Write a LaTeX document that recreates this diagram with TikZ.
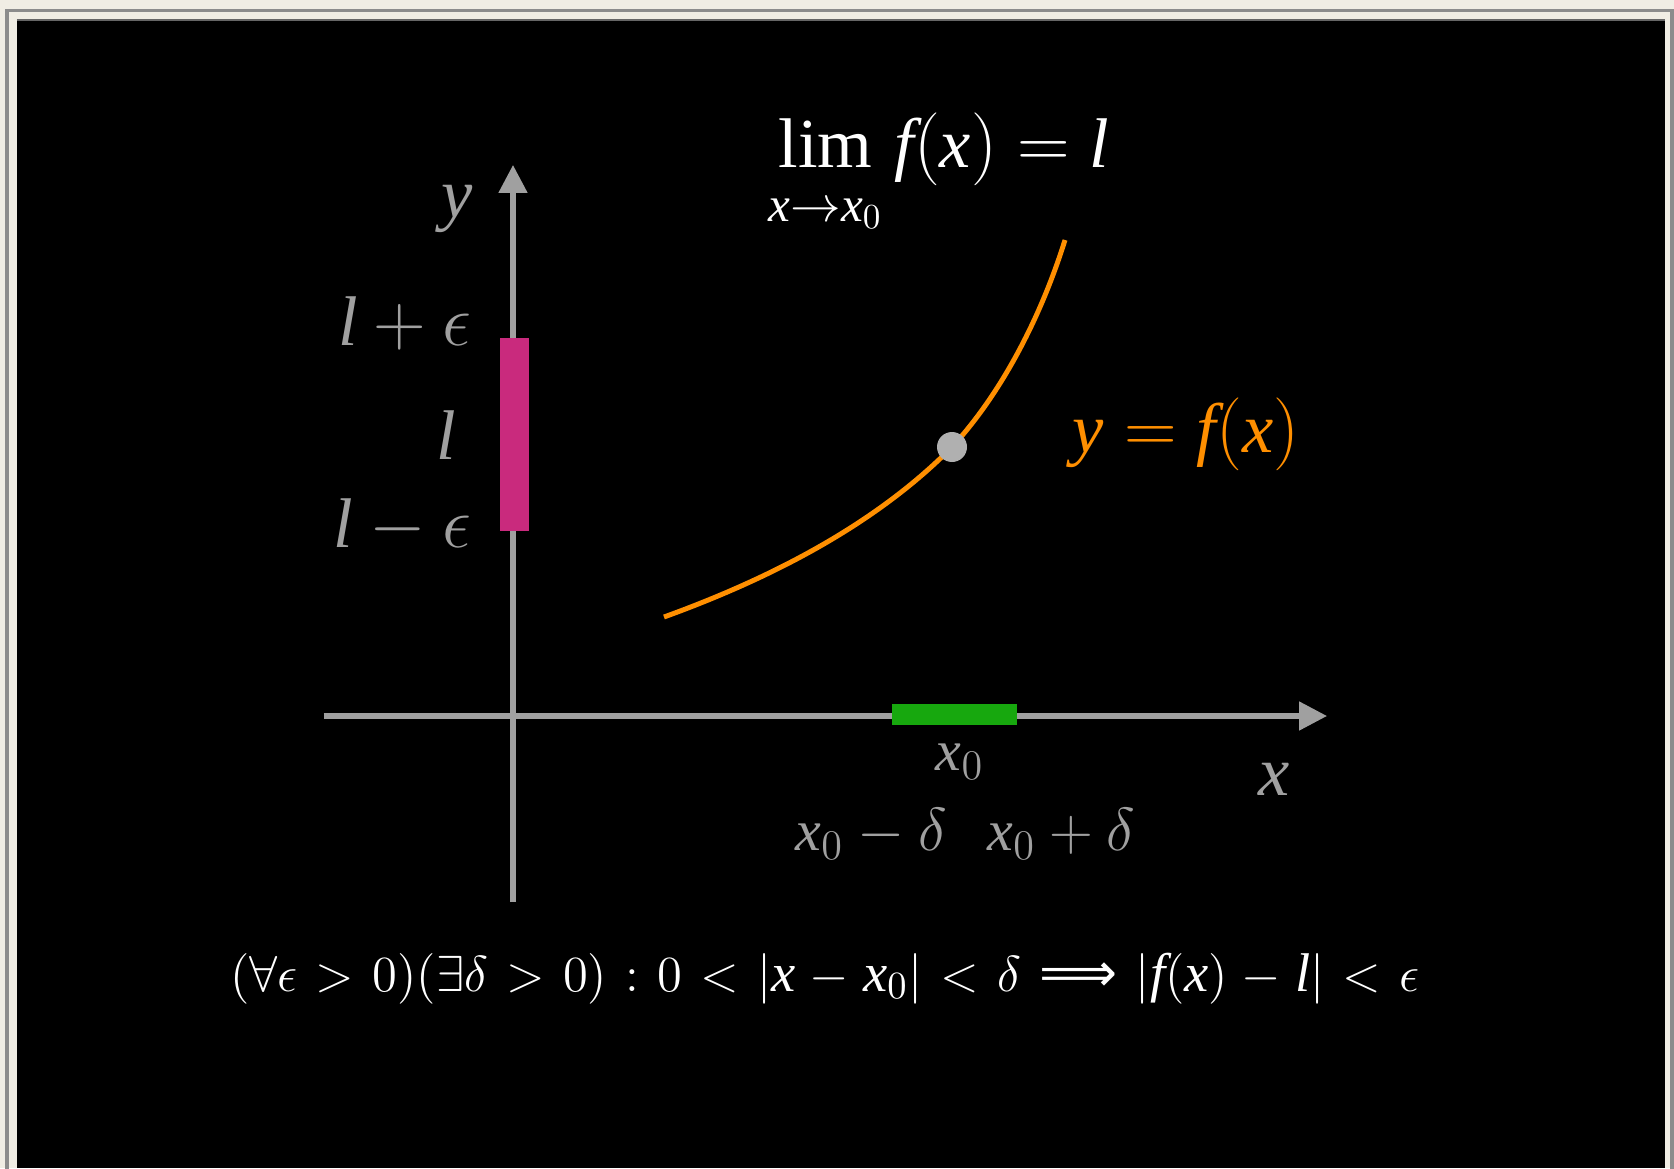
\documentclass[tikz,border=0pt]{standalone}
\usepackage{amsmath}
\usepackage{fontspec}
\setmainfont{Liberation Serif}
\newfontfamily\arrowfont{DejaVu Sans}
\usetikzlibrary{arrows.meta}
\definecolor{paper}{HTML}{F0EDE4}
\definecolor{framegray}{HTML}{8C8C8C}
\definecolor{axisgray}{HTML}{A0A0A0}
\definecolor{dotgray}{HTML}{B0B0B0}
\definecolor{epsmagenta}{HTML}{C92A7D}
\definecolor{deltagreen}{HTML}{17A80E}
\definecolor{curveorange}{HTML}{FF8F00}
% italic letters taken from the text font
\newcommand{\mv}[1]{\mathit{#1}}
\newcommand{\limp}{\mathrel{\text{\arrowfont ⟹}}}

\begin{document}
\begin{tikzpicture}[
    every node/.style={inner sep=0pt, font=\fontsize{20}{24}\selectfont},
    axislabel/.style={axisgray},
    ticklabel/.style={axisgray, font=\fontsize{16.5}{20}\selectfont},
    axis/.style={axisgray, line width=1.45pt, -{Triangle[length=0.28cm,width=0.28cm]}}
  ]
  \useasboundingbox (0,0) rectangle (16.74,11.68);
  % slide frame
  \fill[paper] (0,0) rectangle (16.74,11.68);
  \draw[framegray,line width=0.9pt] (0.07,-0.2) -- (0.07,11.575) -- (16.72,11.575) -- (16.72,-0.2);
  \fill[black] (0.17,0) rectangle (16.65,11.48);
  \draw[black!60,line width=0.4pt] (0.17,11.48) -- (16.65,11.48);

  % axes
  \coordinate (xstart) at (3.235,4.52);
  \coordinate (xend) at (13.27,4.52);
  \coordinate (ystart) at (5.13,2.66);
  \coordinate (yend) at (5.13,10.03);
  \draw[axis] (xstart) -- (xend);
  \draw[axis] (ystart) -- (yend);

  % epsilon band on the y axis, delta band on the x axis
  \fill[epsmagenta] (5.00,6.37) rectangle (5.285,8.30);
  \fill[deltagreen] (8.92,4.43) rectangle (10.17,4.64);

  % the curve and the point at x_0
  \coordinate (c0) at (6.64,5.51);
  \coordinate (p0) at (9.52,7.21);
  \coordinate (c1) at (10.65,9.28);
  \draw[curveorange,line width=1.4pt]
    (c0) .. controls (7.80,5.93) and (8.80,6.48) .. (p0)
         .. controls (10.00,7.73) and (10.40,8.48) .. (c1);
  \fill[dotgray] (p0) circle (0.15);

  % labels
  \node[axislabel,anchor=base] (yLabel) at (4.575,9.51) {$\mv{y}$};
  \node[axislabel,anchor=base east] (lPlus) at (4.72,8.23) {$\mv{l}+\epsilon$};
  \node[axislabel,anchor=base east] (lMid) at (4.57,7.09) {$\mv{l}$};
  \node[axislabel,anchor=base east] (lMinus) at (4.72,6.21) {$\mv{l}-\epsilon$};
  \node[ticklabel,anchor=base] (xZero) at (9.60,3.98) {$\mv{x}_0$};
  \node[axislabel,anchor=base west] (xLabel) at (12.58,3.73) {$\mv{x}$};
  \node[ticklabel,anchor=base west] (xLeft) at (7.95,3.18) {$\mv{x}_0-\delta$};
  \node[ticklabel,anchor=base west] (xRight) at (9.87,3.18) {$\mv{x}_0+\delta$};
  \node[white,anchor=base west] (limText) at (7.68,10.01)
    {$\displaystyle\lim_{\raisebox{-3pt}{$\scriptstyle\mv{x}\to \mv{x}_0$}} \mv{f}(\mv{x})=\mv{l}$};
  \node[curveorange,anchor=base west] (curveLabel) at (10.72,7.16) {$\mv{y}=\mv{f}(\mv{x})$};
  \node[white,anchor=base,font=\fontsize{15.5}{19}\selectfont] (defText) at (8.25,1.77)
    {\thickmuskip=6.5mu\relax\medmuskip=5mu\relax
     $(\forall\epsilon>0)(\exists\delta>0):0<|\mv{x}-\mv{x}_0|<\delta\limp|\mv{f}(\mv{x})-\mv{l}|<\epsilon$};
\end{tikzpicture}
\end{document}
